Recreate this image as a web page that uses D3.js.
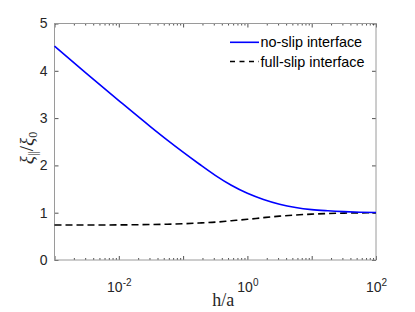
<!DOCTYPE html>
<html>
<head>
<meta charset="utf-8">
<script src="https://cdn.jsdelivr.net/npm/d3@7"></script>
<style>
  body { margin: 0; background: #fff; }
  .tick text { font-family: "Liberation Sans", Arial, sans-serif; fill: #262626; }
</style>
</head>
<body>
<script>
var width = 415,
    height = 312;
var margin = {left: 54.5, right: 39, top: 23.5, bottom: 52};

// h/a sample points (log10) and values
var logH = [-3, -2.5, -2, -1.5, -1.25, -1, -0.75, -0.5, -0.25, 0, 0.25, 0.5, 0.75, 1, 1.25, 1.5, 1.75, 2];
var noSlip = [4.52, 3.94, 3.37, 2.81, 2.54, 2.28, 2.03, 1.79, 1.58, 1.41, 1.28, 1.18, 1.11, 1.065, 1.04, 1.022, 1.01, 1.004];
var fullSlip = [0.74, 0.74, 0.742, 0.75, 0.757, 0.767, 0.782, 0.80, 0.83, 0.86, 0.895, 0.927, 0.952, 0.97, 0.983, 0.991, 0.996, 1.0];

var seriesNames = ["no-slip interface", "full-slip interface"];
var yTicks = [0, 1, 2, 3, 4, 5];
var xLabelExps = [-2, 0, 2];

var x = d3.scaleLog()
    .domain([1e-3, 1e2])
    .range([margin.left, width - margin.right]);
var y = d3.scaleLinear()
    .domain([0, 5])
    .range([height - margin.bottom, margin.top]);

var svg = d3.select("body").append("svg")
    .attr("width", width)
    .attr("height", height);

var decades = x.ticks().filter(function(d) {
    return Math.abs(Math.log10(d) - Math.round(Math.log10(d))) < 1e-9;
});
var minors = x.ticks().filter(function(d) { return decades.indexOf(d) < 0; });

function styleAxis(g) {
    g.select(".domain").remove();
    g.selectAll(".tick line").attr("stroke", "#262626").attr("stroke-width", 0.8);
}

// bottom minor + major
svg.append("g").attr("transform", "translate(0," + y(0) + ")")
    .call(d3.axisBottom(x).tickValues(minors).tickSize(-2).tickFormat(""))
    .call(styleAxis);
var xb = svg.append("g").attr("transform", "translate(0," + y(0) + ")")
    .call(d3.axisBottom(x).tickValues(decades).tickSize(-4)
        .tickFormat(function(d) { return ""; }))
    .call(styleAxis);
xb.selectAll(".tick text")
    .style("font-size", "14px")
    .attr("y", 22)
    .each(function(d) {
        var e = Math.round(Math.log10(d));
        if (xLabelExps.indexOf(e) < 0) return;
        var t = d3.select(this);
        t.append("tspan").text("10");
        t.append("tspan").attr("dy", -6).style("font-size", "10px").text(e);
    });

// top ticks
svg.append("g").attr("transform", "translate(0," + y(5) + ")")
    .call(d3.axisTop(x).tickValues(minors).tickSize(-2).tickFormat(""))
    .call(styleAxis);
svg.append("g").attr("transform", "translate(0," + y(5) + ")")
    .call(d3.axisTop(x).tickValues(decades).tickSize(-4).tickFormat(""))
    .call(styleAxis);

// left and right
svg.append("g").attr("transform", "translate(" + x(1e-3) + ",0)")
    .call(d3.axisLeft(y).tickValues(yTicks).tickSize(-4).tickPadding(7).tickFormat(d3.format("d")))
    .call(styleAxis)
    .selectAll(".tick text").style("font-size", "14px");
svg.append("g").attr("transform", "translate(" + x(1e2) + ",0)")
    .call(d3.axisRight(y).tickValues(yTicks).tickSize(-4).tickFormat(""))
    .call(styleAxis);

// box
svg.append("rect")
    .attr("x", x(1e-3)).attr("y", y(5))
    .attr("width", x(1e2) - x(1e-3)).attr("height", y(0) - y(5))
    .attr("fill", "none").attr("stroke", "#9a9a9a").attr("stroke-width", 1);

// lines
var line = d3.line()
    .x(function(d) { return x(Math.pow(10, d[0])); })
    .y(function(d) { return y(d[1]); })
    .curve(d3.curveMonotoneX);

svg.append("path")
    .datum(d3.zip(logH, fullSlip))
    .attr("d", line)
    .attr("fill", "none").attr("stroke", "#000").attr("stroke-width", 1.6)
    .attr("stroke-dasharray", "7,4");
svg.append("path")
    .datum(d3.zip(logH, noSlip))
    .attr("d", line)
    .attr("fill", "none").attr("stroke", "#0000ff").attr("stroke-width", 1.6);

// legend
var legend = svg.append("g").attr("class", "legend");
var ly = [42.3, 61.5];
legend.append("line").attr("x1", 230).attr("x2", 259).attr("y1", ly[0]).attr("y2", ly[0])
    .attr("stroke", "#0000ff").attr("stroke-width", 1.6);
legend.append("line").attr("x1", 230).attr("x2", 259).attr("y1", ly[1]).attr("y2", ly[1])
    .attr("stroke", "#000").attr("stroke-width", 1.6).attr("stroke-dasharray", "5,4.5");
legend.selectAll("text").data(seriesNames).enter().append("text")
    .attr("x", 260.5)
    .attr("y", function(d, i) { return ly[i] + 5; })
    .style("font-family", "'Liberation Sans', Arial, sans-serif")
    .style("font-size", "14.4px")
    .attr("fill", "#000")
    .text(function(d) { return d; });

// axis labels
svg.append("text")
    .attr("x", (x(1e-3) + x(1e2)) / 2 + 8)
    .attr("y", 306)
    .attr("text-anchor", "middle")
    .style("font-family", "'Liberation Serif', 'DejaVu Serif', serif")
    .style("font-size", "18px")
    .attr("fill", "#262626")
    .text("h/a");

var yl = svg.append("text")
    .attr("transform", "translate(33,148) rotate(-90)")
    .attr("text-anchor", "middle")
    .style("font-family", "'Liberation Serif', 'DejaVu Serif', serif")
    .style("font-size", "19px")
    .attr("fill", "#262626");
yl.append("tspan").style("font-style", "italic").text("ξ");
yl.append("tspan").attr("dy", 4).style("font-size", "12px").text("||");
yl.append("tspan").attr("dy", -4).text("/");
yl.append("tspan").style("font-style", "italic").text("ξ");
yl.append("tspan").attr("dy", 4).style("font-size", "12px").text("0");
</script>
</body>
</html>
